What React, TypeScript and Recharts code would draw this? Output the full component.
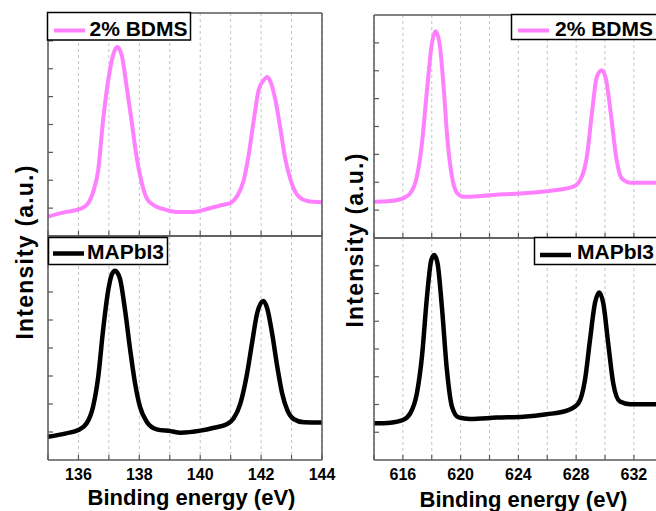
import React from "react";
import { LineChart, Line, XAxis, YAxis, CartesianGrid } from "recharts";

// Pb 4f core level, 2% BDMS film
const pbEnergyBdms = [135.0, 135.6, 136.0, 136.27, 136.48, 136.65, 136.81, 136.98, 137.14, 137.27, 137.42, 137.58, 137.75, 137.91, 138.08, 138.24, 138.46, 138.79, 139.23, 139.78, 140.22, 140.66, 140.99, 141.21, 141.43, 141.59, 141.76, 141.92, 142.09, 142.2, 142.31, 142.47, 142.64, 142.8, 142.97, 143.19, 143.52, 144.0];
const pbIntensityBdms = [8.7, 10.8, 11.9, 13.9, 19.7, 29.6, 52.0, 70.0, 81.2, 84.8, 81.2, 67.3, 51.1, 35.4, 23.8, 17.0, 13.9, 12.1, 10.8, 10.8, 12.1, 13.7, 14.8, 17.9, 25.1, 36.3, 52.0, 65.5, 70.0, 71.3, 69.1, 61.0, 47.5, 34.1, 25.1, 18.4, 15.7, 15.1];

// Pb 4f core level, MAPbI3 film
const pbEnergyRef = [135.0, 135.6, 136.0, 136.27, 136.48, 136.65, 136.81, 136.98, 137.09, 137.2, 137.36, 137.53, 137.7, 137.86, 138.02, 138.24, 138.57, 139.02, 139.35, 140.01, 140.45, 140.89, 141.1, 141.32, 141.54, 141.7, 141.87, 142.07, 142.2, 142.36, 142.53, 142.69, 142.86, 143.08, 143.41, 144.0];
const pbIntensityRef = [10.4, 11.9, 13.4, 16.4, 23.8, 37.2, 58.0, 75.9, 82.6, 84.5, 81.1, 67.0, 49.1, 34.2, 23.8, 17.1, 13.7, 12.9, 12.2, 13.1, 14.4, 16.1, 18.6, 25.3, 38.7, 52.1, 65.5, 71.0, 67.7, 56.6, 41.7, 29.8, 22.3, 18.2, 16.8, 16.7];

// I 3d core level, 2% BDMS film
const iEnergyBdms = [614.0, 615.13, 616.0, 616.51, 616.97, 617.32, 617.67, 618.01, 618.26, 618.54, 618.82, 619.09, 619.4, 619.74, 620.2, 621.36, 622.97, 624.82, 626.66, 627.81, 628.39, 628.74, 629.09, 629.43, 629.78, 630.08, 630.4, 630.77, 631.16, 631.74, 633.6];
const iIntensityBdms = [16.3, 16.6, 17.8, 20.0, 27.5, 42.4, 66.3, 87.2, 92.7, 87.2, 67.8, 43.9, 27.5, 20.3, 18.5, 18.8, 19.6, 20.3, 21.5, 23.0, 27.5, 36.4, 55.8, 72.2, 75.2, 70.8, 55.8, 36.4, 26.7, 24.8, 24.8];

// I 3d core level, MAPbI3 film
const iEnergyRef = [614.0, 615.13, 616.0, 616.51, 616.97, 617.32, 617.67, 617.97, 618.17, 618.4, 618.7, 619.05, 619.4, 619.86, 620.66, 622.51, 624.35, 625.96, 627.35, 628.15, 628.61, 628.96, 629.3, 629.6, 629.88, 630.22, 630.57, 631.03, 631.74, 633.6];
const iIntensityRef = [16.5, 16.8, 18.0, 21.0, 30.0, 46.5, 73.6, 90.1, 92.3, 88.6, 69.1, 40.5, 24.0, 19.2, 18.5, 19.1, 19.5, 20.6, 22.2, 25.5, 36.0, 54.1, 70.6, 75.5, 70.6, 52.6, 34.5, 26.3, 25.1, 25.1];

const pbTicks = [135, 136, 137, 138, 139, 140, 141, 142, 143, 144];
const pbLabels = [136, 138, 140, 142, 144];
const iTicks = [614, 616, 618, 620, 622, 624, 626, 628, 630, 632];
const iLabels = [616, 620, 624, 628, 632];
const yTicks = [12.5, 25, 37.5, 50, 62.5, 75, 87.5];

const PINK = "#ff80ff";
const BLACK = "#000000";
const FRAME = "#595959";
const FONT = '"Liberation Sans", Arial, sans-serif';
const H = 511;

const zip = (xs: number[], ys: number[]) => xs.map((e, k) => ({ e, i: ys[k] }));

const frame = { stroke: FRAME, strokeWidth: 1.5 };

const BottomTick = (props: any) => {
  const { x, y, payload, labels } = props;
  const show = labels && labels.includes(payload.value);
  return (
    <g>
      <line x1={x} x2={x} y1={y} y2={y - 5} stroke={FRAME} strokeWidth={1.2} />
      {show && (
        <text x={x} y={y + 20} textAnchor="middle" fontFamily={FONT} fontWeight={700} fontSize={16} fill="#000">
          {payload.value}
        </text>
      )}
    </g>
  );
};

interface PanelProps {
  data: { e: number; i: number }[];
  color: string;
  lineWidth: number;
  width: number;
  domain: [number, number];
  ticks: number[];
  labels?: number[];
  // plot area edges in page pixels
  box: { top: number; bottom: number; left: number; right: number };
}

const Panel: React.FC<PanelProps> = ({ data, color, lineWidth, width, domain, ticks, labels, box }) => (
  <div style={{ position: "absolute", left: 0, top: 0 }}>
    <LineChart
      width={width}
      height={H}
      data={data}
      margin={{ top: box.top - 1, bottom: H - box.bottom - 1, left: box.left - 1, right: width - box.right - 1 }}
    >
      <CartesianGrid horizontal={false} stroke="#c4c4c4" strokeDasharray="3 3" />
      <XAxis
        type="number"
        dataKey="e"
        domain={domain}
        ticks={ticks}
        interval={0}
        height={1}
        tickSize={0}
        tickMargin={0}
        tickLine={false}
        axisLine={frame}
        tick={(p: any) => <BottomTick {...p} labels={labels} />}
      />
      <XAxis xAxisId="top" orientation="top" type="number" domain={domain} ticks={ticks} height={1} tick={false} tickLine={false} axisLine={frame} />
      <YAxis
        domain={[0, 100]}
        ticks={yTicks}
        interval={0}
        width={1}
        tickSize={0}
        tickMargin={0}
        tickLine={false}
        axisLine={frame}
        tick={(p: any) => <line x1={p.x} x2={p.x + 5} y1={p.y} y2={p.y} stroke={FRAME} strokeWidth={1.2} />}
      />
      <YAxis
        yAxisId="r"
        orientation="right"
        domain={[0, 100]}
        ticks={yTicks}
        interval={0}
        width={1}
        tickSize={0}
        tickMargin={0}
        tickLine={false}
        axisLine={frame}
        tick={(p: any) => <line x1={p.x} x2={p.x - 5} y1={p.y} y2={p.y} stroke={FRAME} strokeWidth={1.2} />}
      />
      <Line type="monotone" dataKey="i" stroke={color} strokeWidth={lineWidth} dot={false} isAnimationActive={false} />
    </LineChart>
  </div>
);

const LegendBox = ({ x, y, w, h, color, lw, label, lineX, lineY, textX, baseline }: any) => (
  <g>
    <rect x={x} y={y} width={w} height={h} fill="#fff" stroke="#000" strokeWidth={1.5} />
    <line x1={lineX} x2={lineX + 31} y1={lineY} y2={lineY} stroke={color} strokeWidth={lw} />
    <text x={textX} y={baseline} fontFamily={FONT} fontWeight={700} fontSize={21} fill="#000">
      {label}
    </text>
  </g>
);

export default function App() {
  return (
    <div style={{ position: "absolute", left: 0, top: 0, width: 656, height: H, overflow: "hidden", background: "#fff" }}>
      {/* Pb 4f */}
      <Panel data={zip(pbEnergyBdms, pbIntensityBdms)} color={PINK} lineWidth={4} width={656} domain={[135, 144]} ticks={pbTicks}
        box={{ top: 13, bottom: 236, left: 48, right: 322 }} />
      <Panel data={zip(pbEnergyRef, pbIntensityRef)} color={BLACK} lineWidth={4.5} width={656} domain={[135, 144]} ticks={pbTicks} labels={pbLabels}
        box={{ top: 236, bottom: 460, left: 48, right: 322 }} />
      {/* I 3d */}
      <Panel data={zip(iEnergyBdms, iIntensityBdms)} color={PINK} lineWidth={4} width={662} domain={[614, 633.6]} ticks={iTicks}
        box={{ top: 15, bottom: 238, left: 374, right: 657 }} />
      <Panel data={zip(iEnergyRef, iIntensityRef)} color={BLACK} lineWidth={4.5} width={662} domain={[614, 633.6]} ticks={iTicks} labels={iLabels}
        box={{ top: 238, bottom: 460, left: 374, right: 657 }} />

      <svg width={656} height={H} style={{ position: "absolute", left: 0, top: 0 }}>
        <LegendBox x={47.5} y={12.5} w={143} h={27.5} color={PINK} lw={4} label="2% BDMS" lineX={54} lineY={30.5} textX={89.5} baseline={35.5} />
        <LegendBox x={48.5} y={237.5} w={119} h={27} color={BLACK} lw={4.5} label="MAPbI3" lineX={53} lineY={253.5} textX={87} baseline={259} />
        <LegendBox x={511.5} y={14.5} w={150} h={25} color={PINK} lw={4} label="2% BDMS" lineX={518} lineY={30.5} textX={555} baseline={36} />
        <LegendBox x={534.5} y={237.5} w={130} h={27} color={BLACK} lw={4.5} label="MAPbI3" lineX={540} lineY={255} textX={577} baseline={258.5} />

        <g fontFamily={FONT} fontWeight={700} fill="#000">
          <text transform="translate(33 252) rotate(-90)" textAnchor="middle" fontSize={23} letterSpacing={1.2}>
            Intensity (a.u.)
          </text>
          <text transform="translate(362.5 240) rotate(-90)" textAnchor="middle" fontSize={23} letterSpacing={1.2}>
            Intensity (a.u.)
          </text>
          <text x={191.5} y={505} textAnchor="middle" fontSize={22}>
            Binding energy (eV)
          </text>
          <text x={523.5} y={506.5} textAnchor="middle" fontSize={22}>
            Binding energy (eV)
          </text>
        </g>
      </svg>
    </div>
  );
}
